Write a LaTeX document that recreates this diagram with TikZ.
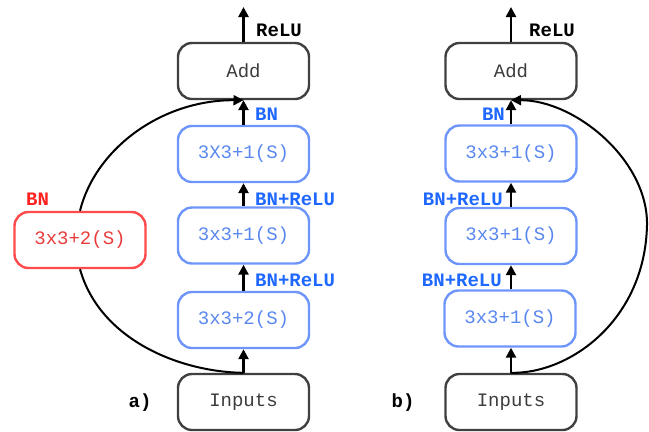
\documentclass[tikz,border=0pt]{standalone}
\usepackage{fontspec}
\setmonofont{Liberation Mono}
\usetikzlibrary{arrows.meta}
\definecolor{boxgray}{HTML}{404040}
\definecolor{txtgray}{HTML}{3C3C3C}
\definecolor{boxblue}{HTML}{6E96FA}
\definecolor{txtblue}{HTML}{5A88F0}
\definecolor{lblblue}{HTML}{1F68FF}
\definecolor{boxred}{HTML}{FF4B4B}
\definecolor{txtred}{HTML}{E83C3C}
\definecolor{lblred}{HTML}{FF2020}
\tikzset{
  blk/.style={draw, rounded corners=14bp, minimum width=131bp, minimum height=56bp,
    line width=2.4bp, inner sep=0pt, font=\ttfamily\fontsize{19bp}{22bp}\selectfont},
  gbox/.style={blk, draw=boxgray, text=txtgray},
  bbox/.style={blk, draw=boxblue, text=txtblue},
  rbox/.style={blk, draw=boxred, text=txtred},
  lbl/.style={inner sep=0pt, font=\ttfamily\bfseries\fontsize{19bp}{22bp}\selectfont},
  arr/.style={line width=2.8bp, -{Triangle[width=10bp,length=10bp]}},
  skip/.style={line width=2bp},
  skiparr/.style={line width=2bp, -{Triangle[width=10bp,length=10bp]}},
}
\begin{document}
\begin{tikzpicture}[x=1bp, y=-1bp]
\useasboundingbox (0,0) rectangle (649,431);
% ---------- panel a ----------
\node[gbox] (addA) at (243.5,71) {Add};
\node[bbox] (a1) at (243.5,154) {3X3+1(S)};
\node[bbox] (a2) at (243.5,235.5) {3x3+1(S)};
\node[bbox] (a3) at (243.5,320) {3x3+2(S)};
\node[gbox] (inA) at (243.5,402) {Inputs};
\node[rbox] (red) at (80,240) {3x3+2(S)};
\coordinate (outA) at (243.5,7);
\draw[arr] (inA.north) -- (a3.south);
\draw[arr] (a3.north) -- (a2.south);
\draw[arr] (a2.north) -- (a1.south);
\draw[arr] (a1.north) -- (addA.south);
\draw[arr] (addA.north) -- (outA);
\draw[skip] (red.south) .. controls (100,340) and (180,372) .. (inA.north);
\draw[skiparr] (red.north) .. controls (95,150) and (160,100) .. (addA.south);
\node[lbl, anchor=west] (reluA) at (256,30) {ReLU};
\node[lbl, anchor=west, text=lblblue] (bnA) at (255,114) {BN};
\node[lbl, anchor=west, text=lblblue] (bnr1A) at (255,199) {BN+ReLU};
\node[lbl, anchor=west, text=lblblue] (bnr2A) at (255,280) {BN+ReLU};
\node[lbl, anchor=west, text=lblred] (bnR) at (26,199) {BN};
\node[lbl] (la) at (140,403) {a)};
% ---------- panel b ----------
\node[gbox] (addB) at (511,71) {Add};
\node[bbox] (b1) at (511,153.5) {3x3+1(S)};
\node[bbox] (b2) at (511,236) {3x3+1(S)};
\node[bbox] (b3) at (510,318.5) {3x3+1(S)};
\node[gbox] (inB) at (511,402) {Inputs};
\coordinate (outB) at (511,7);
\coordinate (sideB) at (647,225);
\draw[arr] (inB.north) -- (inB.north |- b3.south);
\draw[arr] (b3.north -| b2.south) -- (b2.south);
\draw[arr] (b2.north) -- (b1.south);
\draw[arr] (b1.north) -- (addB.south);
\draw[arr] (addB.north) -- (outB);
\draw[skiparr] (inB.north) .. controls (570,374) and (645,320) .. (sideB)
  .. controls (648,160) and (575,100) .. (addB.south);
\node[lbl, anchor=west] (reluB) at (529,30) {ReLU};
\node[lbl, anchor=east, text=lblblue] (bnB) at (505,114) {BN};
\node[lbl, anchor=east, text=lblblue] (bnr1B) at (503,199) {BN+ReLU};
\node[lbl, anchor=east, text=lblblue] (bnr2B) at (502,280) {BN+ReLU};
\node[lbl] (lb) at (403,403) {b)};
\end{tikzpicture}
\end{document}
